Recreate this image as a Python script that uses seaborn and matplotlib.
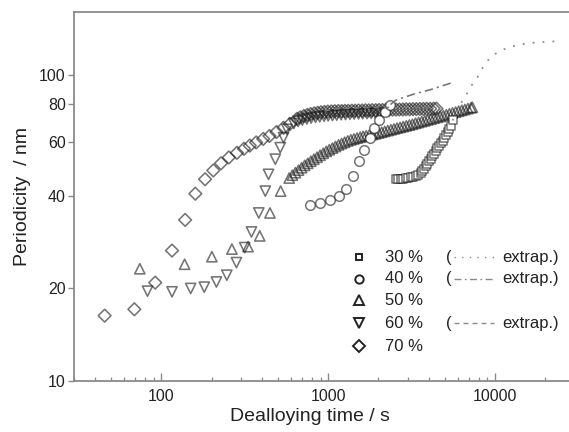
import matplotlib
matplotlib.use("Agg")
import matplotlib.pyplot as plt
from matplotlib.lines import Line2D
from matplotlib.ticker import FixedLocator, FixedFormatter, NullLocator, NullFormatter, LogLocator
import seaborn as sns

sns.set_theme(style="ticks")
plt.rcParams["font.family"] = ["Liberation Sans", "DejaVu Sans"]

# 30 % alloy
t30 = [2540, 2630, 2720, 2820, 2910, 3010, 3120, 3230, 3340, 3460, 3580, 3670, 3750, 3840, 3930,
       4020, 4120, 4210, 4310, 4410, 4510, 4620, 4730, 4840, 4960, 5070, 5190, 5310, 5430, 5560]
p30 = [45.6, 45.6, 45.6, 45.6, 45.8, 45.9, 46.1, 46.3, 46.6, 47.1, 47.7, 48.4, 49.2, 50.1, 51.1,
       52.1, 53.1, 54.1, 55.2, 56.3, 57.4, 58.5, 59.6, 60.8, 62.0, 63.3, 64.7, 66.2, 67.7, 70.8]
t30_ext = [5560, 5900, 6380, 6780, 7240, 7800, 8240, 8960, 9690, 10800, 11900, 13300, 15000,
           16800, 18900, 21700, 25000]
p30_ext = [70.8, 75.5, 82.4, 86.7, 92.3, 97.5, 103.3, 110.6, 115.7, 119.6, 122.4, 124.5, 126.0,
           127.0, 127.6, 128.2, 128.6]

# 40 % alloy
t40 = [779, 895, 1019, 1154, 1283, 1408, 1531, 1648, 1774, 1893, 2020, 2175, 2360]
p40 = [37.5, 38.0, 38.9, 40.2, 42.3, 46.5, 52.0, 56.8, 62.0, 66.8, 71.3, 75.4, 79.8]
t40_ext = [2360, 2535, 3266, 4110, 5560]
p40_ext = [79.8, 82.4, 86.4, 89.3, 94.2]

# 50 % alloy
t50 = [74.4, 138, 201, 265, 331, 389, 448, 519,
       584, 610, 636, 664, 693, 723, 754, 787, 821, 857, 894, 933, 973, 1015, 1060, 1105, 1153,
       1203, 1255, 1310, 1367, 1426, 1488, 1553, 1620, 1690, 1764, 1840, 1920, 2004, 2091, 2181,
       2276, 2375, 2478, 2585, 2697, 2814, 2937, 3064, 3197, 3335, 3480, 3631, 3789, 3953, 4125,
       4304, 4491, 4686, 4889, 5101, 5323, 5554, 5795, 6046, 6309, 6583, 6868, 7166, 7300]
p50 = [23.2, 24.0, 25.4, 26.9, 27.4, 29.7, 35.3, 41.6,
       45.9, 46.9, 47.8, 48.7, 49.6, 50.5, 51.3, 52.1, 52.9, 53.7, 54.5, 55.3, 56.1, 56.8, 57.5,
       58.2, 58.9, 59.5, 60.1, 60.7, 61.2, 61.6, 62.0, 62.4, 62.8, 63.1, 63.4, 63.7, 64.0, 64.4,
       64.8, 65.2, 65.6, 66.0, 66.4, 66.8, 67.2, 67.6, 68.0, 68.4, 68.8, 69.3, 69.7, 70.2, 70.6,
       71.1, 71.5, 72.0, 72.5, 72.9, 73.4, 73.9, 74.4, 74.9, 75.4, 75.9, 76.4, 76.9, 77.4, 77.9,
       78.2]

# 60 % alloy
t60 = [82.7, 116, 150, 181, 214, 247, 282, 316, 347, 384, 420, 439, 482, 516, 540, 566,
       622, 660, 700, 745, 790, 840, 890, 945, 1000, 1060, 1125, 1195, 1270, 1350, 1430, 1520,
       1610, 1710, 1810, 1920, 2040]
p60 = [19.6, 19.5, 20.0, 20.2, 21.0, 22.1, 24.3, 27.2, 30.6, 35.3, 41.6, 47.2, 52.9, 57.7,
       62.2, 66.2, 69.2, 70.3, 71.0, 71.6, 72.1, 72.5, 72.8, 73.1, 73.3, 73.5, 73.7, 73.9, 74.0,
       74.2, 74.3, 74.4, 74.5, 74.6, 74.7, 74.8, 74.9]
t60_ext = [950, 1100, 1500, 2000, 3000, 4300]
p60_ext = [76.0, 77.2, 77.8, 78.0, 78.2, 78.4]

# 70 % alloy
t70 = [45.8, 69, 92, 116, 139, 160, 183, 205, 228, 254, 284, 313, 339, 370, 408, 445, 490, 540,
       590, 650, 680, 715, 750, 785, 825, 865, 905, 950, 995, 1045, 1095, 1150, 1205, 1260, 1320,
       1385, 1450, 1520, 1595, 1670, 1750, 1835, 1925, 2015, 2115, 2215, 2320, 2430, 2550, 2670,
       2800, 2935, 3075, 3220, 3375, 3540, 3710, 3890, 4080, 4280, 4450]
p70 = [16.3, 17.1, 20.9, 26.6, 33.5, 40.8, 45.5, 48.6, 51.3, 53.6, 55.5, 57.2, 58.6, 60.0, 61.6,
       63.0, 64.9, 67.0, 69.0, 71.7, 72.5, 73.2, 73.8, 74.3, 74.7, 75.0, 75.3, 75.5, 75.7, 75.8,
       75.9, 76.0, 76.0, 76.1, 76.1, 76.2, 76.2, 76.3, 76.3, 76.4, 76.4, 76.5, 76.5, 76.6, 76.6,
       76.7, 76.7, 76.8, 76.8, 76.9, 76.9, 77.0, 77.0, 77.1, 77.1, 77.2, 77.2, 77.3, 77.3, 77.4,
       77.4]

labels = ["30 %", "40 %", "50 %", "60 %", "70 %"]
markers = ["s", "o", "^", "v", "D"]

edge = (0.12, 0.12, 0.12, 0.62)
dot_style = (0, (1.0, 4.5))
dashdot_style = (0, (5, 2.5, 1.2, 2.5))
dash_style = (0, (3.5, 3))

fig = plt.figure(figsize=(5.69, 4.32), dpi=100)
ax = fig.add_axes([0.130, 0.119, 0.870, 0.853])

# extrapolations behind the markers
sns.lineplot(x=t30_ext, y=p30_ext, ax=ax, color="#8c8c8c", lw=1.3, linestyle=dot_style,
             sort=False, estimator=None)
sns.lineplot(x=t40_ext, y=p40_ext, ax=ax, color="#777777", lw=1.2, linestyle=dashdot_style,
             sort=False, estimator=None)
sns.lineplot(x=t60_ext, y=p60_ext, ax=ax, color="#777777", lw=1.1, linestyle=dash_style,
             sort=False, estimator=None)

# measured data
sns.scatterplot(x=t50, y=p50, ax=ax, marker="^", s=54, facecolor="none", edgecolor=edge, linewidth=1.15)
sns.scatterplot(x=t60, y=p60, ax=ax, marker="v", s=54, facecolor="none", edgecolor=edge, linewidth=1.15)
sns.scatterplot(x=t70, y=p70, ax=ax, marker="D", s=42, facecolor="none", edgecolor=edge, linewidth=1.15)
sns.scatterplot(x=t40, y=p40, ax=ax, marker="o", s=48, facecolor="white", edgecolor=edge, linewidth=1.1)
sns.scatterplot(x=t30, y=p30, ax=ax, marker="s", s=28, facecolor="white", edgecolor=edge, linewidth=1.1)

ax.set_xscale("log")
ax.set_yscale("log")
ax.set_xlim(30, 27700)
ax.set_ylim(10, 160)

ax.yaxis.set_major_locator(FixedLocator([10, 20, 40, 60, 80, 100]))
ax.yaxis.set_major_formatter(FixedFormatter(["10", "20", "40", "60", "80", "100"]))
ax.yaxis.set_minor_locator(NullLocator())
ax.xaxis.set_major_locator(FixedLocator([100, 1000, 10000]))
ax.xaxis.set_major_formatter(FixedFormatter(["100", "1000", "10000"]))
ax.xaxis.set_minor_locator(LogLocator(base=10, subs=range(2, 10), numticks=20))
ax.xaxis.set_minor_formatter(NullFormatter())

spine_col = "#8a8a8a"
for side in ["left", "bottom", "top"]:
    ax.spines[side].set_color(spine_col)
    ax.spines[side].set_linewidth(1.3)
ax.spines["right"].set_visible(False)

ax.tick_params(axis="x", which="major", direction="in", length=6, width=1.0, color=spine_col,
               labelsize=11.5, labelcolor="#222222", pad=6)
ax.tick_params(axis="x", which="minor", direction="in", length=3, width=0.9, color=spine_col)
ax.tick_params(axis="y", which="major", direction="out", length=4, width=1.0, color=spine_col,
               labelsize=11.5, labelcolor="#222222", pad=2)
ax.tick_params(axis="x", top=False)

ax.set_xlabel("Dealloying time / s", fontsize=14, color="#222222", labelpad=2)
ax.xaxis.set_label_coords(0.477, -0.075)
ax.set_ylabel("Periodicity  / nm", fontsize=14, color="#222222", labelpad=6)

# hand-built legend
rows_y = [0.335, 0.276, 0.218, 0.155, 0.093]
ext_styles = [dot_style, dashdot_style, None, dash_style, None]
leg_sizes = [5.0, 6.0, 7.0, 7.0, 6.0]
for ry, lab, mk, ms, st in zip(rows_y, labels, markers, leg_sizes, ext_styles):
    ax.add_line(Line2D([0.576], [ry], transform=ax.transAxes, marker=mk, markersize=ms,
                       markerfacecolor="white", markeredgecolor="#222222", markeredgewidth=1.4,
                       linestyle="none"))
    ax.text(0.628, ry, lab, transform=ax.transAxes, fontsize=12, color="#222222",
            va="center", ha="left")
    if st is not None:
        ax.text(0.752, ry, "(", transform=ax.transAxes, fontsize=12, color="#222222",
                va="center", ha="left")
        ax.add_line(Line2D([0.768, 0.848], [ry, ry], transform=ax.transAxes, color="#888888",
                           lw=1.0, linestyle=st))
        ax.text(0.866, ry, "extrap.)", transform=ax.transAxes, fontsize=12, color="#222222",
                va="center", ha="left")

fig.savefig("out.png", dpi=100)
